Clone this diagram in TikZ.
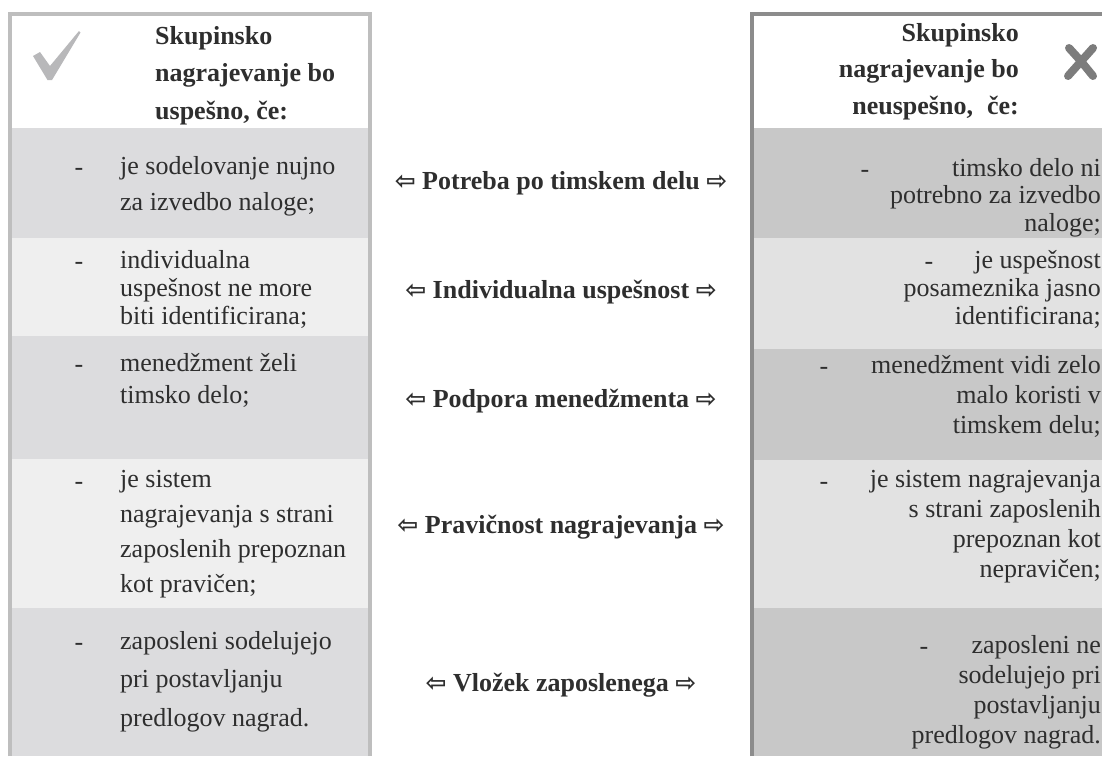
\documentclass[tikz,border=0pt]{standalone}
\usepackage{fontspec}
\setmainfont{Liberation Serif}
\newfontfamily\arrowfont{DejaVu Sans}
\usetikzlibrary{positioning}

\definecolor{lrowA}{HTML}{DCDCDE}
\definecolor{lrowB}{HTML}{EFEFEF}
\definecolor{rrowA}{HTML}{C8C8C8}
\definecolor{rrowB}{HTML}{E2E2E2}
\definecolor{lborder}{HTML}{BEBEBE}
\definecolor{rborder}{HTML}{8C8C8C}
\definecolor{txtgray}{HTML}{2E2E2E}
\definecolor{checkgray}{HTML}{B8B8BA}
\definecolor{crossgray}{HTML}{7C7C7C}

\newcommand{\larr}{{\arrowfont\fontsize{25}{25}\selectfont ⇦}}
\newcommand{\rarr}{{\arrowfont\fontsize{25}{25}\selectfont ⇨}}

\begin{document}
\begin{tikzpicture}[
		x=1pt, y=-1pt,
		every node/.style={inner sep=0pt, text=txtgray},
		txt/.style={font=\fontsize{26}{#1}\selectfont},
		lcell/.style={txt=#1, align=left, anchor=north west},
		rcell/.style={txt=#1, align=right, anchor=north east},
		hyph/.style={font=\fontsize{26}{28}\selectfont},
		head/.style={font=\fontsize{26}{#1}\selectfont\bfseries},
		mid/.style={font=\fontsize{26}{28}\selectfont\bfseries},
		]
		\useasboundingbox (0,0) rectangle (1102,756);
		% row bands
		\fill[white] (10,14) rectangle (370,128);
		\fill[lrowA] (10,128) rectangle (370,238);
		\fill[lrowB] (10,238) rectangle (370,336);
		\fill[lrowA] (10,336) rectangle (370,459);
		\fill[lrowB] (10,459) rectangle (370,608);
		\fill[lrowA] (10,608) rectangle (370,756);
		
		\fill[white] (752,14) rectangle (1102,128);
		\fill[rrowA] (752,128) rectangle (1102,238);
		\fill[rrowB] (752,238) rectangle (1102,349);
		\fill[rrowA] (752,349) rectangle (1102,460);
		\fill[rrowB] (752,460) rectangle (1102,608);
		\fill[rrowA] (752,608) rectangle (1102,756);
		
		% frames
		\draw[lborder, line width=4pt] (10,756) -- (10,14) -- (370,14) -- (370,756);
		\draw[rborder, line width=4pt] (752,756) -- (752,14) -- (1102,14);
		
		% check and cross
		\fill[checkgray] (33,56) -- (40,52) -- (50,66) -- (79,31) -- (80.5,32.5) -- (52,80) -- (47.5,80) -- cycle;
		\draw[crossgray, line width=8pt, line cap=round] (1069,48) .. controls (1080,60) .. (1093,76);
		\draw[crossgray, line width=8pt, line cap=round] (1093,48) .. controls (1081,62) .. (1068,76);
		
		% headers
		\node[head=37.5, align=left, anchor=north west] (lhead) at (155,26)
			{Skupinsko\\nagrajevanje bo\\uspešno, če:};
		\node[head=36.5, align=right, anchor=north east] (rhead) at (1019,23)
			{Skupinsko\\nagrajevanje bo\\neuspešno,\hspace{14pt}če:};
		
		% left column
		\node[lcell=36] (l1) at (120,156) {je sodelovanje nujno\\za izvedbo naloge;};
		\node[lcell=28] (l2) at (120,250) {individualna\\uspešnost ne more\\biti identificirana;};
		\node[lcell=32] (l3) at (120,353) {menedžment želi\\timsko delo;};
		\node[lcell=35] (l4) at (120,470) {je sistem\\nagrajevanja s strani\\zaposlenih prepoznan\\kot pravičen;};
		\node[lcell=38.5] (l5) at (120,631) {zaposleni sodelujejo\\pri postavljanju\\predlogov nagrad.};
		\node[hyph] (l1d) at (79,172) {-};
		\node[hyph] (l2d) at (79,266) {-};
		\node[hyph] (l3d) at (79,369) {-};
		\node[hyph] (l4d) at (79,486) {-};
		\node[hyph] (l5d) at (79,647) {-};
		
		% right column
		\node[rcell=27.5] (r1) at (1101,158) {timsko delo ni\\potrebno za izvedbo\\naloge;};
		\node[rcell=28] (r2) at (1101,250) {je uspešnost\\posameznika jasno\\identificirana;};
		\node[rcell=30] (r3) at (1101,355) {menedžment vidi zelo\\malo koristi v\\timskem delu;};
		\node[rcell=30] (r4) at (1101,470) {je sistem nagrajevanja\\s strani zaposlenih\\prepoznan kot\\nepravičen;};
		\node[rcell=30] (r5) at (1101,635) {zaposleni ne\\sodelujejo pri\\postavljanju\\predlogov nagrad.};
		\node[hyph] (r1d) at (865,174) {-};
		\node[hyph] (r2d) at (929,266) {-};
		\node[hyph] (r3d) at (824,371) {-};
		\node[hyph] (r4d) at (824,486) {-};
		\node[hyph] (r5d) at (924,651) {-};
		
		% middle labels
		\node[mid] (m1) at (561,183) {\larr{} Potreba po timskem delu \rarr};
		\node[mid] (m2) at (561,292) {\larr{} Individualna uspešnost \rarr};
		\node[mid] (m3) at (561,401) {\larr{} Podpora menedžmenta \rarr};
		\node[mid] (m4) at (561,527) {\larr{} Pravičnost nagrajevanja \rarr};
		\node[mid] (m5) at (561,685) {\larr{} Vložek zaposlenega \rarr};
	\end{tikzpicture}
\end{document}
